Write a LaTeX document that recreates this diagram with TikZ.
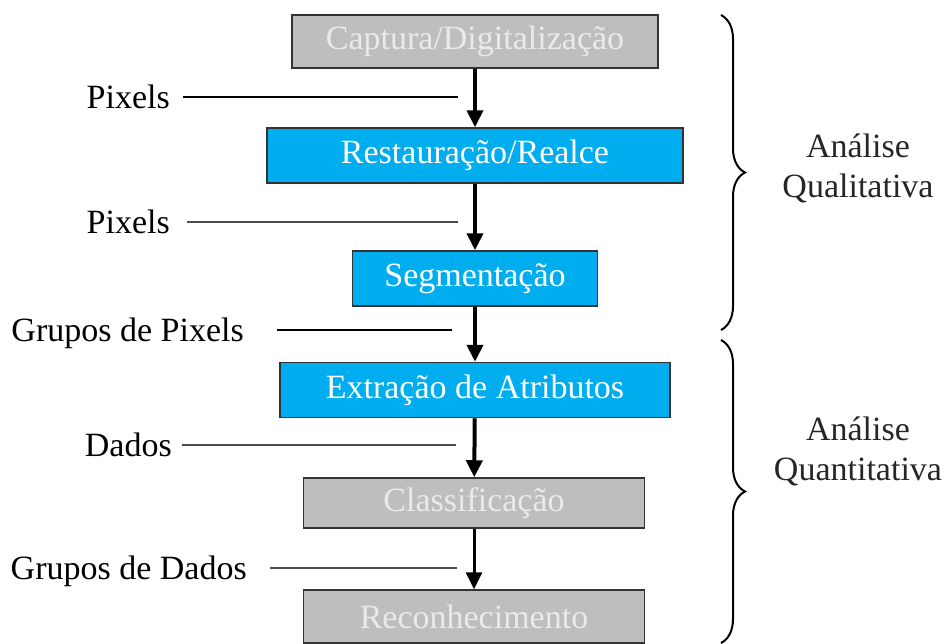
\documentclass[tikz,border=0pt]{standalone}
\usepackage{fontspec}
\setmainfont{Liberation Serif}
\usetikzlibrary{arrows.meta,decorations.pathreplacing}
\definecolor{boxgray}{HTML}{BEBEBE}
\definecolor{boxtext}{HTML}{EAEAEA}
\definecolor{boxcyan}{HTML}{00AEEF}
\definecolor{boxline}{HTML}{333333}
\begin{document}
\begin{tikzpicture}[x=1pt,y=-1pt,
  stage/.style={rectangle,draw=boxline,line width=1.5pt,inner sep=0pt,font=\fontsize{34}{40}\selectfont},
  grey stage/.style={stage,fill=boxgray,text=boxtext},
  cyan stage/.style={stage,fill=boxcyan,text=white},
  side label/.style={anchor=east,inner sep=0pt,text height=22pt,text depth=0pt,font=\fontsize{34}{40}\selectfont},
  group label/.style={align=center,font=\fontsize{34}{40}\selectfont,text=black!85}]%
\useasboundingbox (0,0) rectangle (948,643);
\begin{scope}
\node[grey stage,minimum width=366pt,minimum height=53pt] (cap) at (475,41.5) {Captura/Digitaliza\c{c}\~ao};
\node[cyan stage,minimum width=416pt,minimum height=55pt] (res) at (475,155.5) {Restaura\c{c}\~ao/Realce};
\node[cyan stage,minimum width=245pt,minimum height=55pt] (seg) at (475,278.5) {Segmenta\c{c}\~ao};
\node[cyan stage,minimum width=390pt,minimum height=55pt] (ext) at (475,390) {Extra\c{c}\~ao de Atributos};
\node[grey stage,minimum width=341pt,minimum height=50pt] (cla) at (474,503) {Classifica\c{c}\~ao};
\node[grey stage,minimum width=341pt,minimum height=53pt] (rec) at (474,616.5) {Reconhecimento};
\end{scope}
\begin{scope}[every edge/.style={draw=black,line width=4pt,-{Triangle[length=17pt,width=16pt]}}]
\draw  (cap) edge (res);
\draw  (res) edge (seg);
\draw  (seg) edge (ext);
\draw  (ext) edge (cla);
\draw  (cla) edge[line width=3pt] (rec);
\end{scope}
% data passed between stages
\node[side label] (l1) at (170,97) {Pixels};
\node[side label] (l2) at (170,222) {Pixels};
\node[side label] (l3) at (244,330) {Grupos de Pixels};
\node[side label] (l4) at (172,445) {Dados};
\node[side label] (l5) at (247,568) {Grupos de Dados};
\coordinate (e1) at (458,97);
\coordinate (e2) at (458,222);
\coordinate (e3) at (452,330);
\coordinate (e4) at (456,445);
\coordinate (e5) at (457,568);
\begin{scope}[every edge/.style={draw=black}]
\draw  (l1) edge[line width=2.5pt,shorten <=13pt] (e1);
\draw  (l2) edge[line width=1.5pt,draw=black!70,shorten <=17pt] (e2);
\draw  (l3) edge[line width=2pt,shorten <=33pt] (e3);
\draw  (l4) edge[line width=1.5pt,draw=black!70,shorten <=10pt] (e4);
\draw  (l5) edge[line width=1.5pt,draw=black!70,shorten <=23pt] (e5);
\end{scope}
% braces
\coordinate (b1) at (721,15);
\coordinate (b2) at (721,330);
\coordinate (b3) at (721,340);
\coordinate (b4) at (721,643);
\draw[line width=2pt,decorate,decoration={brace,amplitude=24pt}] (b1) -- (b2);
\draw[line width=2pt,decorate,decoration={brace,amplitude=24pt}] (b3) -- (b4);
\node[group label] (qual) at (858,168) {An\'alise\\Qualitativa};
\node[group label] (quan) at (858,451) {An\'alise\\Quantitativa};
\end{tikzpicture}
\end{document}
